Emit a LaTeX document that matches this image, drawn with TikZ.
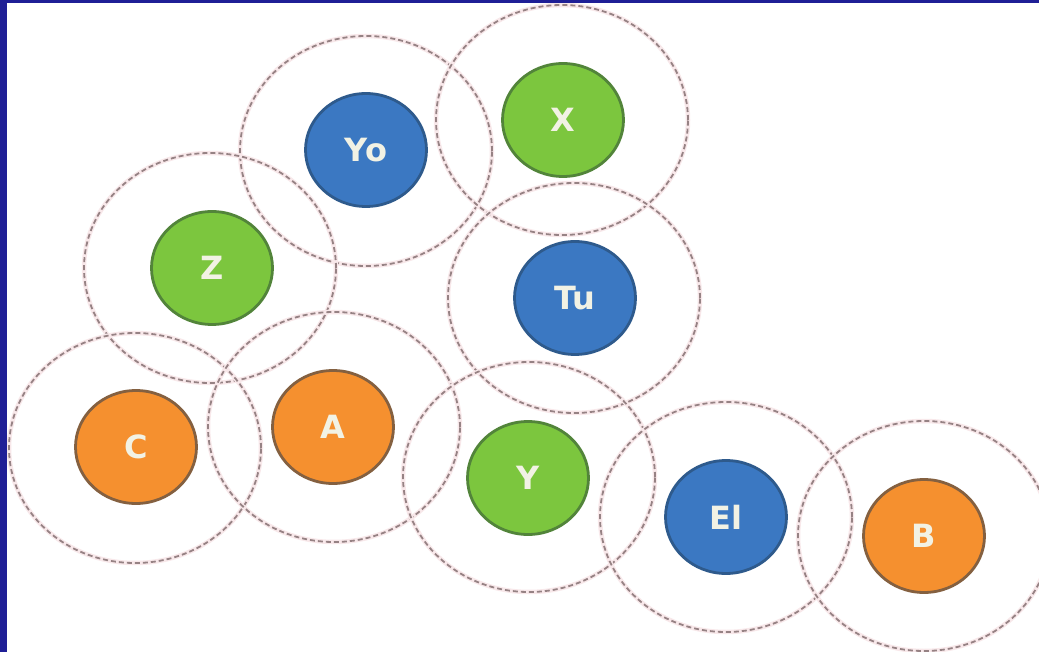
\documentclass[tikz,border=0pt]{standalone}
\usepackage{fontspec}
\setmainfont{DejaVu Sans}
\usetikzlibrary{shapes.geometric}
\definecolor{frameblue}{HTML}{1F1F96}
\definecolor{ringcol}{HTML}{968284}
\definecolor{ringhalo}{HTML}{F8E8EA}
\definecolor{bfill}{HTML}{3B78C2}
\definecolor{bedge}{HTML}{2E5A8C}
\definecolor{gfill}{HTML}{7CC63E}
\definecolor{gedge}{HTML}{52843A}
\definecolor{ofill}{HTML}{F5902F}
\definecolor{oedge}{HTML}{846040}
\definecolor{txt}{HTML}{F2F2E4}
\tikzset{
  ring/.style={ellipse, minimum width=252pt, minimum height=230pt, inner sep=0pt,
    draw=ringcol, line width=1.8pt, dash pattern=on 5pt off 3pt,
    preaction={draw=ringhalo, line width=4.5pt, solid}},
  ball/.style={ellipse, minimum width=121pt, minimum height=113pt, inner sep=0pt,
    line width=2.8pt, text=txt, font=\fontsize{32}{32}\selectfont\bfseries},
  blueball/.style={ball, fill=bfill, draw=bedge},
  greenball/.style={ball, fill=gfill, draw=gedge},
  orangeball/.style={ball, fill=ofill, draw=oedge},
}
\begin{document}
\begin{tikzpicture}[x=1pt,y=-1pt]
\useasboundingbox (0,0) rectangle (1039,652);
\clip (0,0) rectangle (1039,652);
\fill[white] (0,0) rectangle (1039,652);
% rings
\node[ring] (rYo) at (366,151) {};
\node[ring] (rX)  at (562,120) {};
\node[ring] (rZ)  at (210,268) {};
\node[ring] (rTu) at (574,298) {};
\node[ring] (rC)  at (135,448) {};
\node[ring] (rA)  at (334,427) {};
\node[ring] (rY)  at (529,477) {};
\node[ring] (rEl) at (726,517) {};
\node[ring] (rB)  at (924,536) {};
% balls
\node[blueball]   (Yo) at (366,150) {Yo};
\node[greenball]  (X)  at (563,120) {X};
\node[greenball]  (Z)  at (212,268) {Z};
\node[blueball]   (Tu) at (575,298) {Tu};
\node[orangeball] (C)  at (136,447) {C};
\node[orangeball] (A)  at (333,427) {A};
\node[greenball]  (Y)  at (528,478) {Y};
\node[blueball]   (El) at (726,517) {El};
\node[orangeball] (B)  at (924,536) {B};
% frame
\fill[frameblue] (0,0) rectangle (1039,3);
\fill[frameblue] (0,0) rectangle (7,652);
\end{tikzpicture}
\end{document}
